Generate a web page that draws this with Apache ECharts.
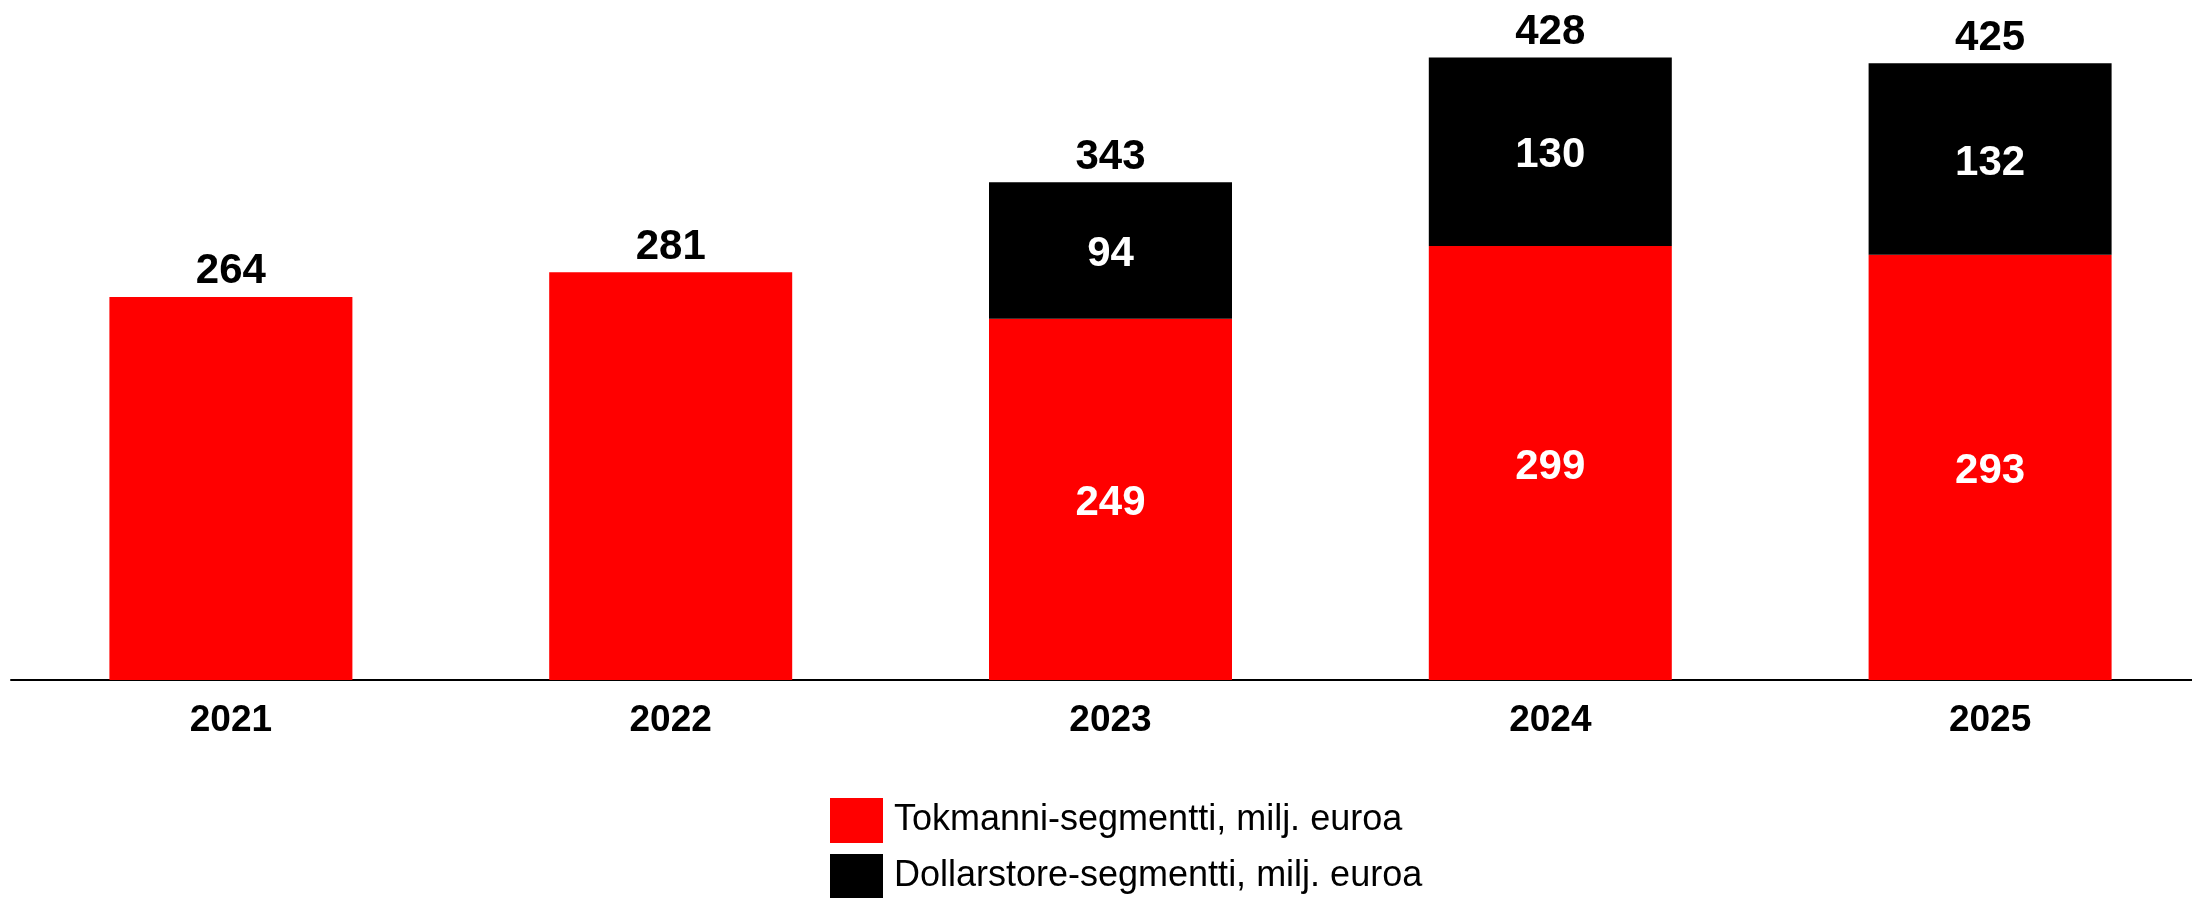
<!DOCTYPE html>
<html>
<head>
<meta charset="utf-8">
<script src="https://cdn.jsdelivr.net/npm/echarts@6/dist/echarts.min.js"></script>
<style>
  html, body { margin: 0; padding: 0; background: #fff; }
  #chart { width: 2192px; height: 898px; }
</style>
</head>
<body>
<div id="chart"></div>
<script>
  var years = ['2021', '2022', '2023', '2024', '2025'];
  var tokmanni = [264, 281, 249, 299, 293];
  var dollarstore = ['-', '-', 94, 130, 132];
  var totals = [264, 281, 343, 428, 425];

  var FONT = '"Liberation Sans", Arial, sans-serif';

  var myChart = echarts.init(document.getElementById('chart'));
  var option = {
    animation: false,
    grid: {
      left: 11,
      top: 27,
      width: 2199,
      bottom: 218,
      outerBoundsMode: 'none'
    },
    legend: {
      data: ['Tokmanni-segmentti, milj. euroa', 'Dollarstore-segmentti, milj. euroa'],
      orient: 'vertical',
      left: 830,
      top: 798,
      height: 120,
      padding: 0,
      itemWidth: 53,
      itemHeight: 45,
      itemGap: 11,
      icon: 'rect',
      textStyle: {
        fontFamily: FONT,
        fontSize: 36,
        color: '#000',
        padding: [0, 0, 0, 6]
      }
    },
    xAxis: {
      type: 'category',
      data: years,
      axisTick: { show: false },
      axisLine: { lineStyle: { color: '#000', width: 2 } },
      axisLabel: {
        margin: 22,
        fontFamily: FONT,
        fontWeight: 'bold',
        fontSize: 37,
        color: '#000'
      }
    },
    yAxis: {
      type: 'value',
      min: 0,
      max: 450,
      show: false,
      splitLine: { show: false }
    },
    series: [{
      name: 'Tokmanni-segmentti, milj. euroa',
      type: 'bar',
      stack: 'total',
      barWidth: 243,
      data: tokmanni,
      itemStyle: { color: '#ff0000' },
      label: {
        show: true,
        position: 'inside',
        offset: [0, 4],
        fontFamily: FONT,
        fontWeight: 'bold',
        fontSize: 42,
        color: '#fff',
        formatter: function (p) {
          // 2021-2022 näytetään vain kokonaisarvona
          return dollarstore[p.dataIndex] === '-' ? '' : p.value;
        }
      }
    }, {
      name: 'Dollarstore-segmentti, milj. euroa',
      type: 'bar',
      stack: 'total',
      barWidth: 243,
      data: dollarstore,
      itemStyle: { color: '#000' },
      label: {
        show: true,
        position: 'inside',
        offset: [0, 4],
        fontFamily: FONT,
        fontWeight: 'bold',
        fontSize: 42,
        color: '#fff'
      }
    }, {
      // summa pylvään päälle
      name: 'total',
      type: 'bar',
      stack: 'total',
      barWidth: 243,
      silent: true,
      data: years.map(function () { return 0; }),
      itemStyle: { color: 'transparent' },
      label: {
        show: true,
        position: 'top',
        distance: 4,
        fontFamily: FONT,
        fontWeight: 'bold',
        fontSize: 42,
        color: '#000',
        formatter: function (p) {
          return totals[p.dataIndex];
        }
      }
    }]
  };
  myChart.setOption(option);
</script>
</body>
</html>
